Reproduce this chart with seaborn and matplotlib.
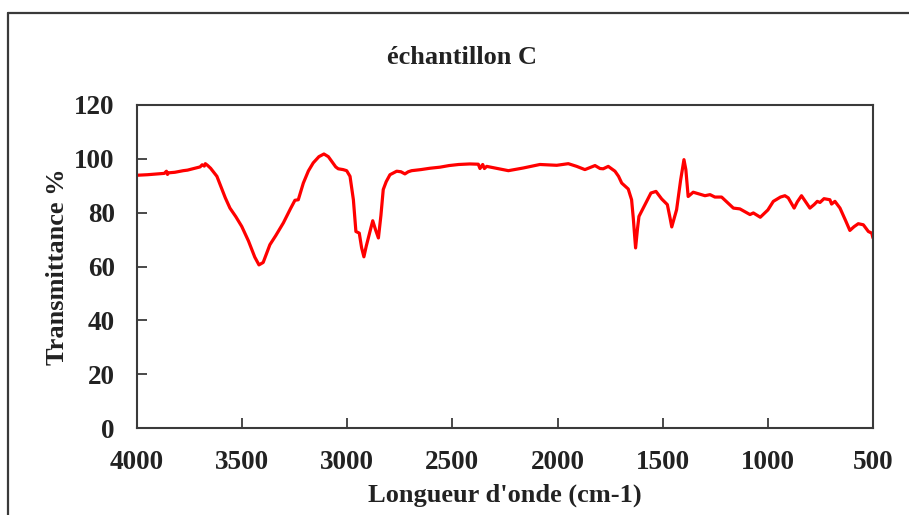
import matplotlib
matplotlib.use('Agg')
import matplotlib.pyplot as plt
from matplotlib.lines import Line2D
import pandas as pd
import seaborn as sns

# spectre IR (nombre d'onde en cm-1, transmittance en %)
wavenumber = [
    4000, 3950, 3900, 3870, 3860, 3855, 3850, 3820, 3800, 3780, 3760, 3740,
    3720, 3700, 3690, 3680, 3675, 3665, 3650, 3630, 3620, 3600, 3580, 3558,
    3530, 3502, 3470, 3440, 3420, 3400, 3368, 3340, 3304, 3270, 3249, 3233,
    3209, 3185, 3162, 3135, 3111, 3090, 3074, 3055, 3043, 3020, 3003, 2987,
    2971, 2959, 2943, 2932, 2921, 2910, 2900, 2879, 2865, 2852, 2840, 2829,
    2815, 2797, 2765, 2745, 2726, 2710, 2694, 2650, 2607, 2559, 2516, 2470,
    2417, 2377, 2369, 2356, 2348, 2337, 2298, 2234, 2163, 2084, 2004, 1949,
    1909, 1870, 1822, 1798, 1783, 1759, 1727, 1710, 1695, 1664, 1648, 1640,
    1629, 1620, 1613, 1584, 1556, 1532, 1505, 1478, 1465, 1457, 1434, 1415,
    1399, 1390, 1379, 1355, 1299, 1275, 1252, 1220, 1195, 1164, 1133, 1085,
    1069, 1036, 1000, 974, 940, 919, 903, 875, 860, 840, 820, 800,
    780, 765, 752, 733, 705, 697, 681, 657, 630, 610, 590, 570,
    546, 522, 506, 500,
]
transmittance = [
    93.9, 94.1, 94.4, 94.6, 95.4, 94.2, 94.8, 95.0, 95.3, 95.6, 95.8, 96.2,
    96.6, 97.0, 97.8, 97.3, 98.2, 97.6, 96.5, 94.5, 93.5, 89.5, 85.5, 81.7,
    78.5, 74.9, 69.5, 63.5, 60.6, 61.5, 68.1, 71.5, 76.2, 81.5, 84.6, 84.8,
    91.0, 95.5, 98.5, 100.8, 101.8, 100.8, 99.1, 97.0, 96.3, 96.0, 95.6, 93.5,
    84.8, 73.0, 72.4, 67.0, 63.6, 67.5, 70.6, 77.0, 73.5, 70.6, 79.0, 88.6,
    91.5, 94.1, 95.4, 95.2, 94.4, 95.2, 95.6, 96.0, 96.5, 96.9, 97.5, 97.9,
    98.1, 98.0, 96.4, 97.9, 96.4, 97.2, 96.6, 95.6, 96.6, 97.9, 97.6, 98.2,
    97.2, 96.0, 97.5, 96.4, 96.3, 97.2, 95.4, 93.5, 91.0, 88.8, 84.8, 78.0,
    66.9, 74.0, 78.6, 83.0, 87.3, 87.9, 85.1, 83.0, 78.0, 74.7, 81.1, 92.0,
    99.7, 96.0, 86.0, 87.6, 86.3, 86.7, 85.8, 85.8, 84.0, 81.7, 81.4, 79.3,
    79.9, 78.3, 81.0, 84.2, 85.8, 86.3, 85.5, 81.7, 84.0, 86.3, 84.0, 81.7,
    83.0, 84.2, 83.8, 85.2, 84.8, 83.2, 84.2, 81.7, 77.0, 73.4, 74.8, 75.9,
    75.5, 73.0, 72.4, 70.6,
]
x_ticks = [4000, 3500, 3000, 2500, 2000, 1500, 1000, 500]
y_ticks = [0, 20, 40, 60, 80, 100, 120]

df = pd.DataFrame({'wavenumber': wavenumber, 'transmittance': transmittance})

sns.set_style('white')
plt.rcParams['font.family'] = ['Liberation Serif', 'DejaVu Serif']
plt.rcParams['font.weight'] = 'bold'

edge = '#3a3a3a'
txt = '#222222'
fig = plt.figure(figsize=(9.09, 5.15), dpi=100)
ax = fig.add_axes([137 / 909, 1 - 428 / 515, (873 - 137) / 909, (428 - 105) / 515])

sns.lineplot(data=df, x='wavenumber', y='transmittance', color='#ff0000',
             linewidth=2.3, estimator=None, ax=ax)

ax.set_xlim(4000, 500)
ax.set_ylim(0, 120)
ax.set_xticks(x_ticks)
ax.set_yticks(y_ticks)
ax.tick_params(axis='both', direction='in', length=7, width=1.3, color=edge,
               labelsize=19.5, pad=16, labelcolor=txt,
               bottom=True, left=True, top=False, right=False)
for s in ax.spines.values():
    s.set_color(edge)
    s.set_linewidth(1.5)

ax.set_xlabel("Longueur d'onde (cm-1)", fontsize=19, fontweight='bold',
              color=txt, labelpad=6)
ax.set_ylabel('Transmittance %', fontsize=19, fontweight='bold',
              color=txt, labelpad=4)
fig.text(462 / 909, 1 - 58 / 515, 'échantillon C', ha='center', va='center',
         fontsize=19, fontweight='bold', color=txt)

# cadre de la figure (bords gauche et haut visibles)
fig.add_artist(Line2D([8 / 909, 8 / 909], [0, 1 - 13 / 515], transform=fig.transFigure,
                      color=edge, linewidth=1.6))
fig.add_artist(Line2D([8 / 909, 1], [1 - 13 / 515, 1 - 13 / 515], transform=fig.transFigure,
                      color=edge, linewidth=1.6))

fig.savefig('out.png', dpi=100)
